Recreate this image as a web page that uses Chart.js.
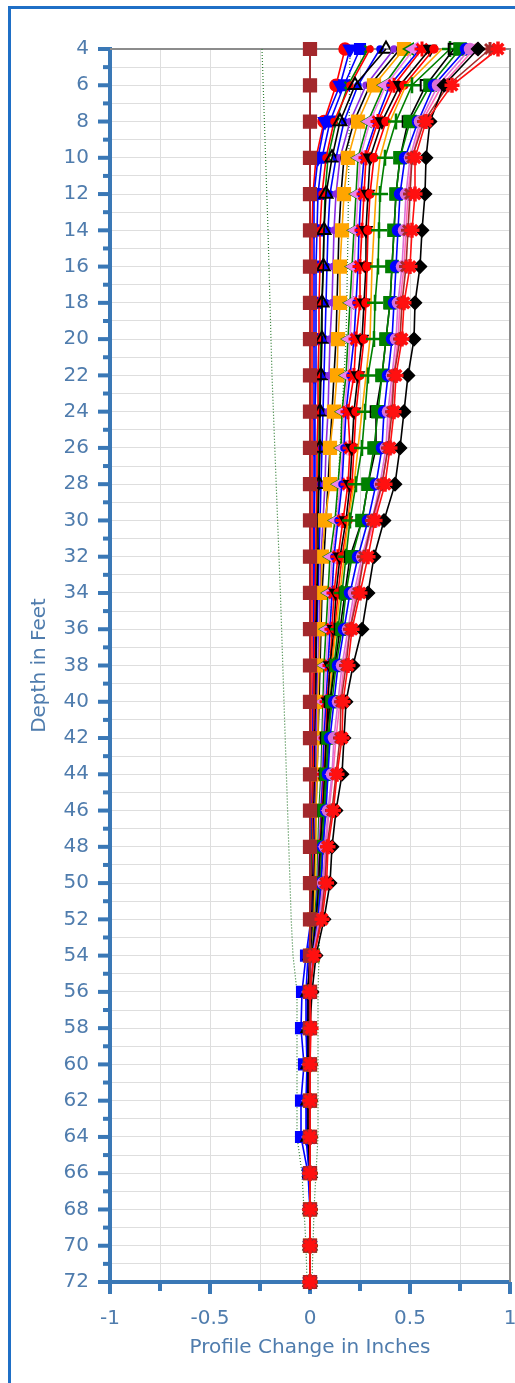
<!DOCTYPE html>
<html>
<head>
<meta charset="utf-8">
<script src="https://cdn.jsdelivr.net/npm/chart.js@4/dist/chart.umd.min.js"></script>
<style>
  html, body { margin: 0; padding: 0; background: #ffffff; }
  #wrap { position: relative; width: 515px; height: 1383px; overflow: hidden; }
  #frame { position: absolute; left: 8px; top: 6px; width: 600px; height: 1500px;
           border-left: 3px solid #1f6fc6; border-top: 3px solid #1f6fc6; }
  canvas { position: absolute; left: 0; top: 0; }
</style>
</head>
<body>
<div id="wrap">
  <div id="frame"></div>
  <canvas id="c" width="515" height="1383"></canvas>
</div>
<script>
// ---- data ----
const depths = [4,6,8,10,12,14,16,18,20,22,24,26,28,30,32,34,36,38,40,42,44,46,48,50,52,54,56,58,60,62,64,66,68,70,72];
const xTickLabels = ['-1','-0.5','0','0.5','1'];

const redStarRight = [0.94,0.71,0.58,0.525,0.525,0.51,0.5,0.47,0.46,0.43,0.42,0.4,0.375,0.325,0.29,0.25,0.21,0.19,0.165,0.16,0.135,0.117,0.09,0.083,0.06,0.02,0,0.005,0,0,0,0,0,0,0];
const brownSquare = [0,0,0,0,0,0,0,0,0,0,0,0,0,0,0,0,0,0,0,0,0,0,0,0,0,0,0,0,0,0,0,0,0,0,0];
const blackDiamond = [0.84,0.67,0.6,0.58,0.575,0.56,0.55,0.525,0.52,0.49,0.47,0.45,0.425,0.37,0.32,0.29,0.26,0.215,0.18,0.17,0.16,0.13,0.11,0.1,0.07,0.03,0.01,0,0,0,0,0,0,0,0];
const brownStar = [0.9,0.69,0.57,0.51,0.5,0.49,0.48,0.46,0.45,0.42,0.41,0.39,0.36,0.31,0.27,0.24,0.2,0.18,0.155,0.15,0.13,0.11,0.085,0.075,0.055,0.02,0,0,0,0,0,0,0,0,0];
const orchidCircle = [0.8,0.64,0.55,0.5,0.48,0.47,0.46,0.44,0.43,0.41,0.39,0.38,0.35,0.31,0.26,0.22,0.19,0.16,0.14,0.12,0.11,0.09,0.075,0.065,0.045,0.015,0,0,0,0,0,0,0,0,0];
const pinkLeft = [0.82,0.66,0.56,0.51,0.49,0.48,0.47,0.45,0.44,0.42,0.4,0.39,0.36,0.32,0.27,0.23,0.2,0.17,0.15,0.13,0.115,0.095,0.08,0.07,0.05,0.015,0,0,0,0,0,0,0,0,0];
const blueCircle = [0.78,0.62,0.54,0.475,0.45,0.44,0.43,0.42,0.41,0.39,0.37,0.36,0.33,0.29,0.24,0.2,0.17,0.14,0.12,0.1,0.09,0.08,0.065,0.055,0.04,0.015,0,0,0,0,0,0,0,0,0];
const greenSquare = [0.75,0.6,0.5,0.45,0.43,0.42,0.41,0.4,0.38,0.36,0.34,0.32,0.29,0.26,0.21,0.18,0.16,0.13,0.11,0.09,0.08,0.07,0.06,0.05,0.04,0.015,0,0,0,0,0,0,0,0,0];
const blackOpenSquare = [0.72,0.58,0.49,0.45,0.43,0.42,0.41,0.4,0.38,0.36,0.33,0.33,0.29,0.26,0.2,0.175,0.15,0.125,0.1,0.08,0.075,0.065,0.05,0.045,0.03,0.01,0,0,0,0,0,0,0,0,0];
const greenPlus = [0.7,0.51,0.43,0.375,0.35,0.345,0.34,0.325,0.32,0.29,0.275,0.26,0.23,0.2,0.18,0.16,0.14,0.12,0.1,0.095,0.085,0.075,0.065,0.055,0.045,0.015,0,0,0,0,0,0,0,0,0];
const orangeLine = [0.66,0.48,0.4,0.35,0.33,0.32,0.31,0.305,0.3,0.28,0.26,0.24,0.22,0.19,0.17,0.15,0.13,0.11,0.1,0.09,0.08,0.07,0.06,0.05,0.04,0.01,0,0,0,0,0,0,0,0,0];
const redLine = [0.62,0.47,0.38,0.32,0.3,0.29,0.285,0.28,0.27,0.25,0.23,0.22,0.21,0.19,0.16,0.14,0.125,0.11,0.1,0.09,0.08,0.07,0.06,0.05,0.04,0.015,0,0,0,0,0,0,0,0,0];
const blackDown = [0.6,0.45,0.36,0.3,0.29,0.28,0.28,0.27,0.26,0.24,0.22,0.21,0.2,0.18,0.15,0.13,0.12,0.1,0.09,0.085,0.075,0.065,0.055,0.05,0.04,0.015,0,0,0,0,0,0,0,0,0];
const redStarMid = [0.56,0.42,0.34,0.28,0.27,0.26,0.25,0.25,0.23,0.22,0.19,0.2,0.19,0.165,0.14,0.12,0.11,0.1,0.085,0.08,0.07,0.06,0.05,0.045,0.035,0.01,0,0,0,0,0,0,0,0,0];
const blueLine = [0.55,0.4,0.33,0.27,0.255,0.245,0.24,0.23,0.22,0.2,0.18,0.17,0.16,0.14,0.12,0.11,0.1,0.09,0.08,0.07,0.065,0.055,0.05,0.04,0.03,0.01,0,0,0,0,0,0,0,0,0];
const violetLeft = [0.52,0.38,0.3,0.25,0.24,0.23,0.22,0.21,0.2,0.19,0.17,0.165,0.15,0.135,0.11,0.1,0.09,0.08,0.07,0.065,0.06,0.05,0.045,0.04,0.03,0.01,0,0,0,0,0,0,0,0,0];
const greenLeft = [0.5,0.37,0.29,0.24,0.23,0.22,0.21,0.2,0.19,0.18,0.16,0.155,0.14,0.125,0.1,0.09,0.08,0.07,0.065,0.06,0.055,0.045,0.04,0.035,0.025,0.01,0,0,0,0,0,0,0,0,0];
const orangeSquare = [0.47,0.32,0.24,0.19,0.17,0.16,0.15,0.15,0.14,0.135,0.12,0.1,0.1,0.075,0.06,0.055,0.05,0.045,0.04,0.04,0.035,0.03,0.03,0.025,0.02,0.01,0,0,0,0,0,0,0,0,0];
const blackLine = [0.45,0.3,0.22,0.17,0.155,0.145,0.14,0.135,0.13,0.12,0.11,0.1,0.09,0.08,0.07,0.06,0.055,0.05,0.045,0.04,0.035,0.03,0.025,0.02,0.015,0.005,0,0,0,0,0,0,0,0,0];
const purpleLine = [0.42,0.28,0.2,0.15,0.13,0.12,0.115,0.11,0.1,0.095,0.09,0.08,0.075,0.065,0.055,0.05,0.045,0.04,0.035,0.03,0.03,0.025,0.02,0.02,0.015,0.005,0,0,0,0,0,0,0,0,0];
const blackOpenTri = [0.38,0.225,0.15,0.11,0.08,0.07,0.067,0.06,0.06,0.055,0.05,0.05,0.045,0.04,0.04,0.035,0.03,0.03,0.03,0.025,0.025,0.02,0.02,0.015,0.01,0,-0.01,-0.01,-0.01,-0.01,-0.01,0,0,0,0];
const blueLine2 = [0.35,0.24,0.17,0.13,0.1,0.09,0.085,0.08,0.075,0.07,0.065,0.06,0.055,0.05,0.045,0.04,0.035,0.03,0.03,0.025,0.025,0.02,0.02,0.015,0.01,0,-0.01,-0.015,-0.01,-0.015,-0.015,0,0,0,0];
const redLine2 = [0.3,0.2,0.12,0.08,0.06,0.05,0.05,0.045,0.045,0.04,0.04,0.035,0.035,0.03,0.03,0.025,0.025,0.02,0.02,0.02,0.015,0.015,0.015,0.01,0.01,0,-0.01,-0.01,-0.01,-0.01,-0.01,0,0,0,0];
const greenX = [0.29,0.19,0.13,0.09,0.075,0.07,0.065,0.06,0.055,0.05,0.045,0.045,0.04,0.035,0.03,0.03,0.025,0.025,0.02,0.02,0.015,0.015,0.01,0.01,0.01,0,0,0,0,0,0,0,0,0,0];
const blueSquare = [0.25,0.17,0.1,0.06,0.04,0.035,0.03,0.03,0.03,0.03,0.025,0.025,0.025,0.02,0.02,0.02,0.02,0.02,0.015,0.015,0.015,0.01,0.01,0.01,0.005,-0.02,-0.04,-0.045,-0.03,-0.045,-0.045,-0.01,0,0,0];
const blueDown = [0.2,0.15,0.075,0.04,0.02,0.02,0.02,0.02,0.02,0.02,0.02,0.02,0.02,0.02,0.02,0.02,0.02,0.02,0.02,0.015,0.015,0.015,0.01,0.01,0.01,-0.01,-0.02,-0.02,-0.015,-0.02,-0.02,-0.005,0,0,0];
const redCircle = [0.175,0.13,0.07,0.03,0.015,0.01,0.01,0.01,0.01,0.01,0.01,0.01,0.01,0.01,0.01,0.01,0.01,0.01,0.01,0.01,0.01,0.01,0.01,0.01,0.005,0,-0.01,0,0,0,0,0,0,0,0];
const envelopeLeft = [-0.24,-0.234,-0.228,-0.222,-0.216,-0.21,-0.205,-0.2,-0.195,-0.19,-0.183,-0.176,-0.169,-0.162,-0.155,-0.148,-0.142,-0.136,-0.13,-0.124,-0.118,-0.112,-0.106,-0.1,-0.094,-0.085,-0.065,-0.065,-0.065,-0.065,-0.065,-0.04,-0.03,-0.02,-0.015];
const envelopeRight = [0.2,0.198,0.196,0.194,0.192,0.19,0.187,0.184,0.18,0.17,0.16,0.15,0.14,0.13,0.12,0.11,0.1,0.093,0.087,0.08,0.074,0.068,0.062,0.056,0.05,0.045,0.04,0.04,0.04,0.04,0.04,0.03,0.02,0.015,0.01];

// ---- styling ----
const AXIS = '#3a78b6';
const TEXT = '#4f7cad';
const FONT = 'DejaVu Sans';

function pts(vals) { return vals.map((v, i) => ({ x: v, y: depths[i] })); }

function ser(vals, color, style, opts) {
  opts = opts || {};
  return Object.assign({
    data: pts(vals),
    showLine: true,
    borderColor: color,
    backgroundColor: color,
    pointBackgroundColor: opts.hollow ? 'rgba(255,255,255,0)' : color,
    pointBorderColor: color,
    pointStyle: style,
    pointRadius: 6,
    pointBorderWidth: 1.5,
    pointRotation: 0,
    borderWidth: 1.6,
    clip: false
  }, opts.ds || {});
}

const datasets = [
  ser(redStarRight, '#ff1010', 'star', { ds: { pointRadius: 7.5, pointBorderWidth: 3.5 } }),
  ser(brownSquare, '#a3282c', 'rect', { ds: { pointRadius: 9, borderWidth: 2 } }),
  ser(blackDiamond, '#000000', 'rectRot', { ds: { pointRadius: 6.5 } }),
  ser(brownStar, '#a52a2a', 'star', { ds: { pointRadius: 7, pointBorderWidth: 3 } }),
  ser(orchidCircle, '#da70d6', 'circle', { ds: { pointRadius: 5.5 } }),
  ser(pinkLeft, '#ff69b4', 'triangle', { ds: { pointRotation: -90, pointRadius: 7 } }),
  ser(blueCircle, '#0000ff', 'circle', { ds: { pointRadius: 5.5 } }),
  ser(greenSquare, '#008000', 'rect', { ds: { pointRadius: 8.5 } }),
  ser(blackOpenSquare, '#000000', 'rect', { hollow: true, ds: { pointRadius: 7.5, pointBorderWidth: 2 } }),
  ser(greenPlus, '#008000', 'cross', { ds: { pointRadius: 8, pointBorderWidth: 2.5 } }),
  ser(orangeLine, '#ffa500', 'circle', { ds: { pointRadius: 0 } }),
  ser(redLine, '#ff0000', 'circle', { ds: { pointRadius: 4 } }),
  ser(blackDown, '#000000', 'triangle', { ds: { pointRotation: 180, pointRadius: 7 } }),
  ser(redStarMid, '#ff0000', 'star', { ds: { pointRadius: 7.5, pointBorderWidth: 3 } }),
  ser(blueLine, '#0000ff', 'circle', { ds: { pointRadius: 3 } }),
  ser(violetLeft, '#ee82ee', 'triangle', { ds: { pointRotation: -90, pointRadius: 7.5 } }),
  ser(greenLeft, '#008000', 'triangle', { ds: { pointRotation: -90, pointRadius: 6.5 } }),
  ser(orangeSquare, '#ffa500', 'rect', { ds: { pointRadius: 9 } }),
  ser(blackLine, '#000000', 'circle', { ds: { pointRadius: 3 } }),
  ser(purpleLine, '#8a2be2', 'circle', { ds: { pointRadius: 3 } }),
  ser(blackOpenTri, '#000000', 'triangle', { hollow: true, ds: { pointRadius: 7.5, pointBorderWidth: 2 } }),
  ser(blueLine2, '#0000ff', 'circle', { ds: { pointRadius: 3 } }),
  ser(redLine2, '#ff0000', 'circle', { ds: { pointRadius: 3 } }),
  ser(greenX, '#008000', 'crossRot', { ds: { pointRadius: 5, pointBorderWidth: 2 } }),
  ser(blueSquare, '#0000ff', 'rect', { ds: { pointRadius: 7.5 } }),
  ser(blueDown, '#0000ff', 'triangle', { ds: { pointRotation: 180, pointRadius: 7.5 } }),
  ser(redCircle, '#ff0000', 'circle', { ds: { pointRadius: 6 } }),
  ser(envelopeLeft, '#2e7d32', 'circle', { ds: { pointRadius: 0, borderWidth: 1.2, borderDash: [1, 2] } }),
  ser(envelopeRight, '#2e7d32', 'circle', { ds: { pointRadius: 0, borderWidth: 1.2, borderDash: [1, 2] } })
];

const decor = {
  id: 'decor',
  beforeDatasetsDraw(chart) {
    const { ctx, chartArea: a, scales: { x, y } } = chart;
    ctx.save();
    ctx.strokeStyle = '#8c8c8c';
    ctx.lineWidth = 2;
    ctx.beginPath();
    ctx.moveTo(a.left, a.top);
    ctx.lineTo(a.right, a.top);
    ctx.lineTo(a.right, a.bottom);
    ctx.stroke();
    ctx.strokeStyle = AXIS;
    ctx.lineWidth = 4;
    y.ticks.forEach(t => {
      const py = y.getPixelForValue(t.value);
      const len = (t.value % 2 === 0) ? 12 : 7;
      ctx.beginPath();
      ctx.moveTo(a.left - len, py);
      ctx.lineTo(a.left, py);
      ctx.stroke();
    });
    x.ticks.forEach(t => {
      const px = x.getPixelForValue(t.value);
      const major = Math.abs(t.value * 2 - Math.round(t.value * 2)) < 1e-9;
      const len = major ? 12 : 9;
      ctx.beginPath();
      ctx.moveTo(px, a.bottom);
      ctx.lineTo(px, a.bottom + len);
      ctx.stroke();
    });
    ctx.restore();
  }
};

new Chart(document.getElementById('c'), {
  type: 'scatter',
  data: { datasets },
  options: {
    responsive: false,
    animation: false,
    devicePixelRatio: 1,
    layout: { padding: { left: 0, top: 49, right: 5, bottom: 0 }, autoPadding: false },
    plugins: { legend: { display: false }, tooltip: { enabled: false } },
    scales: {
      x: {
        type: 'linear',
        min: -1, max: 1,
        afterFit(s) { s.height = 101; s.paddingLeft = 0; s.paddingRight = 0; },
        ticks: {
          stepSize: 0.25,
          padding: 25,
          color: TEXT,
          font: { family: FONT, size: 20 },
          maxRotation: 0,
          autoSkip: false,
          callback(v) {
            const k = Math.round(v * 2);
            if (Math.abs(v * 2 - k) > 1e-9) return '';
            return xTickLabels[k + 2];
          }
        },
        grid: { color: '#dedede', lineWidth: 1, drawTicks: false },
        border: { display: true, color: AXIS, width: 4 },
        title: { display: true, text: 'Profile Change in Inches', color: TEXT,
                 font: { family: FONT, size: 20 }, padding: { top: 0, bottom: 23 } }
      },
      y: {
        type: 'linear',
        min: 4, max: 72,
        reverse: true,
        afterFit(s) { s.width = 110; s.paddingTop = 0; s.paddingBottom = 0; },
        ticks: {
          stepSize: 1,
          padding: 21,
          color: TEXT,
          font: { family: FONT, size: 20 },
          autoSkip: false,
          callback(v) { return (v % 2 === 0) ? String(v) : ''; }
        },
        grid: { color: '#dedede', lineWidth: 1, drawTicks: false },
        border: { display: true, color: AXIS, width: 4 },
        title: { display: true, text: 'Depth in Feet', color: TEXT,
                 font: { family: FONT, size: 20 }, padding: { top: 28, bottom: 0 } }
      }
    }
  },
  plugins: [decor]
});
</script>
</body>
</html>
